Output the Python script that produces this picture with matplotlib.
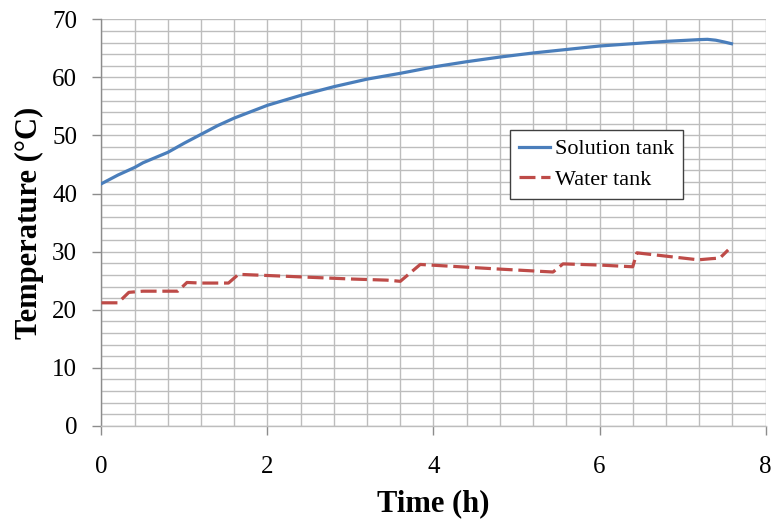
import matplotlib
matplotlib.use("Agg")
import matplotlib.pyplot as plt
from matplotlib.ticker import MultipleLocator

# Data
sol_t = [0, 0.2, 0.4, 0.5, 0.6, 0.8, 1.0, 1.2, 1.4, 1.6, 1.8, 2.0, 2.4, 2.8, 3.2, 3.6,
         4.0, 4.4, 4.8, 5.2, 5.6, 6.0, 6.4, 6.8, 7.0, 7.2, 7.3, 7.4, 7.5, 7.59]
sol_T = [41.7, 43.2, 44.5, 45.3, 45.9, 47.1, 48.7, 50.2, 51.7, 53.0, 54.1, 55.2, 56.9,
         58.4, 59.7, 60.7, 61.8, 62.7, 63.5, 64.2, 64.8, 65.4, 65.8, 66.2, 66.35,
         66.5, 66.55, 66.4, 66.1, 65.8]

wat_t = [0, 0.2, 0.33, 0.5, 0.92, 1.03, 1.2, 1.53, 1.65, 2.0, 2.5, 3.0, 3.44, 3.6, 3.84,
         4.2, 4.8, 5.44, 5.56, 6.0, 6.4, 6.45, 7.19, 7.35, 7.45, 7.55]
wat_T = [21.2, 21.2, 23.0, 23.2, 23.2, 24.7, 24.6, 24.6, 26.1, 25.9, 25.6, 25.3, 25.1,
         24.9, 27.8, 27.5, 27.0, 26.5, 27.9, 27.7, 27.4, 29.8, 28.6, 28.8, 28.9, 30.3]

x_ticks = [0, 2, 4, 6, 8]
y_ticks = [0, 10, 20, 30, 40, 50, 60, 70]

plt.rcParams['font.family'] = ['Liberation Serif', 'DejaVu Serif']

fig = plt.figure(figsize=(7.71, 5.27), dpi=100)
ax = fig.add_axes([0.1316, 0.1917, 0.9929 - 0.1316, 0.9634 - 0.1917])

ax.plot(sol_t, sol_T, color='#4A7EBB', lw=2.3, label='Solution tank', zorder=3)
ax.plot(wat_t, wat_T, color='#BE4B48', lw=2.3, dashes=(5, 1.8), label='Water tank', zorder=3)

ax.set_xlim(0, 8)
ax.set_ylim(0, 70)
ax.set_xticks(x_ticks)
ax.set_yticks(y_ticks)
ax.xaxis.set_minor_locator(MultipleLocator(0.4))
ax.yaxis.set_minor_locator(MultipleLocator(2))
ax.grid(True, which='both', color='#BDBDBD', lw=1.0, zorder=0)
ax.set_axisbelow(True)

for s in ['top', 'right']:
    ax.spines[s].set_visible(False)
ax.spines['left'].set_color('#8C8C8C')
ax.spines['bottom'].set_color('#BDBDBD')
ax.spines['left'].set_linewidth(1.0)
ax.spines['bottom'].set_linewidth(1.0)

ax.tick_params(axis='both', which='major', direction='out', length=6.5, width=1.0,
               color='#8C8C8C', labelsize=18)
ax.tick_params(axis='x', which='major', pad=15)
ax.tick_params(axis='y', which='major', pad=11)
ax.tick_params(axis='both', which='minor', length=0)

ax.set_xlabel('Time (h)', fontsize=22, fontweight='bold', labelpad=8)
ax.set_ylabel('Temperature (°C)', fontsize=22, fontweight='bold', labelpad=6)

leg = ax.legend(loc='upper left', bbox_to_anchor=(0.615, 0.728), fontsize=16,
                frameon=True, fancybox=False, edgecolor='#404040', framealpha=1,
                handlelength=1.4, handletextpad=0.25, borderpad=0.4, labelspacing=0.45,
                borderaxespad=0)
leg.get_frame().set_linewidth(1.0)

fig.savefig('out.png', dpi=100)
